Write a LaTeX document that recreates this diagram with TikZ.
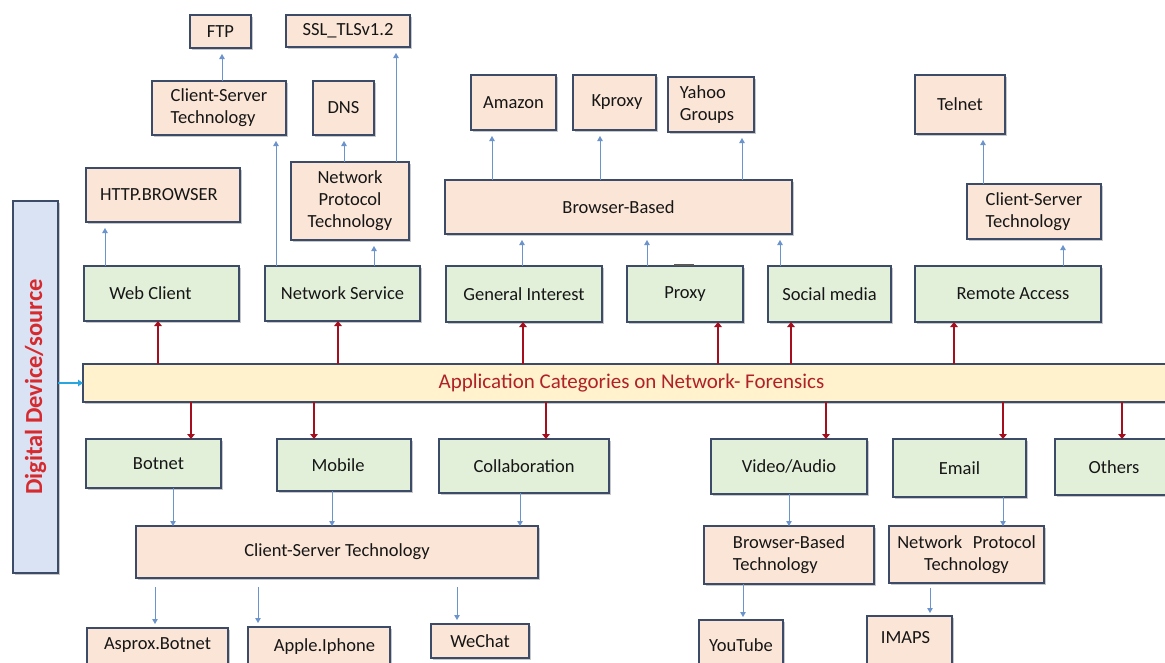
\documentclass[tikz,border=0pt]{standalone}
\usepackage{fontspec}
\setmainfont{Carlito}
\usetikzlibrary{arrows.meta,shadows}

\definecolor{peach}{HTML}{FBE5D6}
\definecolor{mint}{HTML}{E2F0D9}
\definecolor{cream}{HTML}{FFF2CC}
\definecolor{skyfill}{HTML}{DAE3F3}
\definecolor{edge}{HTML}{3C4B68}
\definecolor{bluline}{HTML}{6C94CC}
\definecolor{darkred}{HTML}{A50E1C}
\definecolor{titlered}{HTML}{B02128}
\definecolor{devred}{HTML}{D62A2F}
\definecolor{cyanline}{HTML}{29A6E0}
\definecolor{ink}{HTML}{161616}

% box with corners (x1,y1)-(x2,y2) in picture coordinates
\newcommand\putbox[7][]{%
  \node[#1, minimum width={(#5-#3)*1pt}, minimum height={(#6-#4)*1pt}]
    (#2) at ({(#3+#5)/2},{(#4+#6)/2}) {#7};}
% box whose lower edge runs off the page: top edge y1, text baseline set by text height
\newcommand\putcut[6]{%
  \node[peachbox, anchor=north, minimum width={(#4-#2)*1pt}, inner ysep=0pt,
        text height=#5pt, text depth=40pt]
    (#1) at ({(#2+#4)/2},#3) {#6};}
% vertical connectors at a given x
\newcommand\arrup[4][bluup]{\coordinate (ax) at (#4,0);
  \draw[#1] (#2.north -| ax) -- (#3.south -| ax);}
\newcommand\arrdn[4][bludn]{\coordinate (ax) at (#4,0);
  \draw[#1] (#2.south -| ax) -- (#3.north -| ax);}

\tikzset{
  basebox/.style={draw=edge, line width=1.2pt, inner sep=0pt, outer sep=0pt,
    text=ink, font=\fontsize{18.5}{22}\selectfont,
    drop shadow={shadow xshift=1.5pt, shadow yshift=-2pt, opacity=0.3, fill=black!70}},
  peachbox/.style={basebox, fill=peach},
  greenbox/.style={basebox, fill=mint},
  bandbox/.style={basebox, fill=cream, text=titlered, font=\fontsize{21}{25}\selectfont},
  devbox/.style={basebox, fill=skyfill},
  bluup/.style={draw=bluline, line width=0.9pt,
    -{Triangle[width=5.5pt,length=5pt]}, shorten >=6pt},
  bludn/.style={draw=bluline, line width=0.9pt,
    -{Triangle[width=5.5pt,length=5pt]}},
  bludngap/.style={bludn, shorten <=9pt, shorten >=4pt},
  redup/.style={draw=darkred, line width=2.6pt, -{Triangle[width=7.5pt,length=5pt]}},
  reddn/.style={redup},
  cyanarr/.style={draw=cyanline, line width=2pt, -{Triangle[width=6.5pt,length=5pt]}},
}

\begin{document}
\begin{tikzpicture}[x=1pt,y=-1pt]
\clip (0,0) rectangle (1165,662);
\fill[white] (0,0) rectangle (1165,662);

% ---- upper technology and application boxes ----
\putbox[peachbox]{ftp}{190}{15}{251}{48}{FTP}
\putbox[peachbox]{ssl}{286}{15}{410}{47}{SSL\_TLSv1.2}
\putbox[peachbox,align=left]{cstA}{152}{81}{286}{135}{Client-Server\\Technology}
\putbox[peachbox]{dns}{313}{81}{374}{135}{DNS}
\putbox[peachbox]{http}{86}{168}{240}{222}{HTTP.BROWSER\hspace*{8pt}}
\putbox[peachbox,align=center]{nptA}{291}{162}{409}{240}{Network\\Protocol\\Technology}
\putbox[peachbox]{amazon}{471}{75}{556}{130}{Amazon}
\putbox[peachbox]{kproxy}{573}{75}{656}{130}{\hspace*{5pt}Kproxy}
\putbox[peachbox,align=left]{yahoo}{668}{77}{754}{132}{Yahoo\\Groups\hspace*{8pt}}
\putbox[peachbox]{bbased}{445}{180}{792}{234}{Browser-Based}
\putbox[peachbox]{telnet}{915}{75}{1005}{134}{Telnet}
\putbox[peachbox,align=left]{cstB}{967}{184}{1101}{239}{Client-Server\\Technology}

% ---- upper categories ----
\putbox[greenbox]{webc}{84}{266}{239}{321}{Web Client\hspace*{22pt}}
\putbox[greenbox]{netsvc}{265}{266}{420}{321}{Network Service}
\putbox[greenbox]{genint}{446}{266}{602}{322}{General Interest}
\putbox[greenbox]{proxy}{627}{266}{743}{322}{Proxy}
\putbox[greenbox]{social}{768}{266}{891}{322}{Social media}
\putbox[greenbox]{remote}{915}{266}{1101}{322}{\hspace*{10pt}Remote Access}
\draw[line width=2pt, draw=black!65] (674,265) -- (694,265);

% ---- central band and source ----
\putbox[bandbox]{band}{83}{364}{1185}{402}{Application Categories on Network- Forensics\hspace*{5pt}}
\putbox[devbox]{dev}{13}{201}{58}{573}{}
\node[rotate=90, text=devred, font=\fontsize{24.5}{28}\selectfont\bfseries] (devtxt) at (dev.center) {Digital Device/source};

% ---- lower categories ----
\putbox[greenbox]{botnet}{86}{439}{221}{488}{\hspace*{10pt}Botnet}
\putbox[greenbox]{mobile}{277}{439}{411}{491}{Mobile\hspace*{12pt}}
\putbox[greenbox]{collab}{439}{439}{609}{493}{Collaboration}
\putbox[greenbox]{video}{711}{439}{867}{494}{Video/Audio}
\putbox[greenbox]{email}{893}{439}{1026}{497}{Email}
\putbox[greenbox]{others}{1055}{439}{1185}{495}{Others\hspace*{12pt}}

% ---- lower technology boxes ----
\putbox[peachbox]{cstC}{136}{526}{538}{578}{Client-Server Technology}
\putbox[peachbox,align=left]{bbt}{704}{526}{874}{584}{Browser-Based\\Technology}
\putbox[peachbox,align=center]{nptB}{889}{526}{1044}{583}{Network\hspace{0.35em} Protocol\\Technology}

% ---- lower applications ----
\putcut{asprox}{87}{628}{228}{21}{Asprox.Botnet}
\putcut{apple}{248}{627}{390}{24}{\hspace*{11pt}Apple.Iphone}
\putbox[peachbox]{wechat}{431}{624}{529}{658}{WeChat}
\putcut{youtube}{699}{620}{783}{31}{YouTube}
\putcut{imaps}{867}{616}{952}{27}{IMAPS\hspace*{8pt}}

% ---- source into band ----
\draw[cyanarr] (dev.east |- band.west) -- (band.west);

% ---- band to categories ----
\arrup[redup]{band}{webc}{158}
\arrup[redup]{band}{netsvc}{338}
\arrup[redup]{band}{genint}{523}
\arrup[redup]{band}{proxy}{718}
\arrup[redup]{band}{social}{791}
\arrup[redup]{band}{remote}{954}
\arrdn[reddn]{band}{botnet}{191}
\arrdn[reddn]{band}{mobile}{314}
\arrdn[reddn]{band}{collab}{546}
\arrdn[reddn]{band}{video}{826}
\arrdn[reddn]{band}{email}{1003}
\arrdn[reddn]{band}{others}{1122}

% ---- upper connectors ----
\arrup{webc}{http}{105}
\arrup{netsvc}{cstA}{276}
\arrup{cstA}{ftp}{222}
\arrup{nptA}{dns}{344}
\arrup{nptA}{ssl}{396}
\arrup{netsvc}{nptA}{374}
\arrup{bbased}{amazon}{492}
\arrup{bbased}{kproxy}{600}
\arrup{bbased}{yahoo}{742}
\arrup{genint}{bbased}{522}
\arrup{proxy}{bbased}{647}
\arrup{social}{bbased}{780}
\arrup{cstB}{telnet}{983}
\arrup{remote}{cstB}{1063}

% ---- lower connectors ----
\arrdn{botnet}{cstC}{173}
\arrdn{mobile}{cstC}{332}
\arrdn{collab}{cstC}{520}
\arrdn{video}{bbt}{789}
\arrdn{email}{nptB}{1003}
\arrdn[bludngap]{cstC}{asprox}{155}
\arrdn[bludngap]{cstC}{apple}{258}
\arrdn[bludngap]{cstC}{wechat}{457}
\arrdn[bludn, shorten >=3pt]{bbt}{youtube}{743}
\arrdn[bludn, shorten <=5pt, shorten >=3pt]{nptB}{imaps}{930}
\end{tikzpicture}
\end{document}
